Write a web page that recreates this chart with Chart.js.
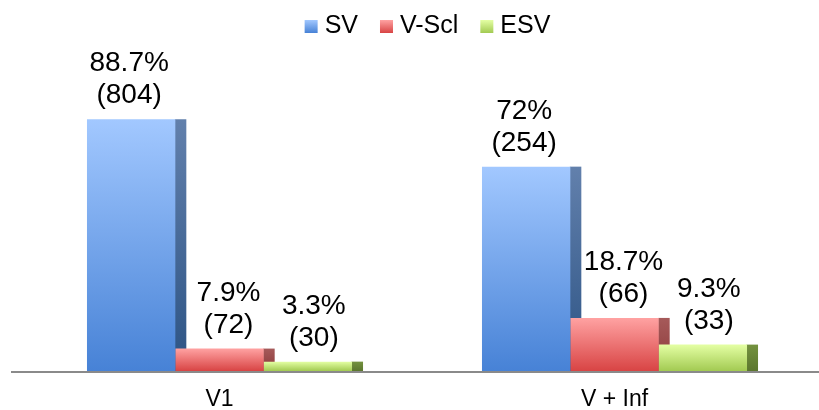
<!DOCTYPE html>
<html><head><meta charset="utf-8">
<script src="https://cdn.jsdelivr.net/npm/chart.js@4.4.1/dist/chart.umd.min.js"></script>
<style>html,body{margin:0;padding:0;background:#fff}#wrap{width:819px;height:410px;position:relative}</style>
</head><body><div id="wrap"><canvas id="c"></canvas></div>
<script>
const categories = ['V1', 'V + Inf'];
const seriesNames = ['SV', 'V-Scl', 'ESV'];
const svPct = [88.7, 72];
const svCount = [804, 254];
const vsclPct = [7.9, 18.7];
const vsclCount = [72, 66];
const esvPct = [3.3, 9.3];
const esvCount = [30, 33];

const FONT = '"Liberation Sans", Arial, Helvetica, sans-serif';
const frontColors = [['#A2C8FF', '#4782D6'], ['#FFA2A2', '#D84444'], ['#E4FFA4', '#A2CA52']];
const sideColors = [['#6280AC', '#2C5384'], ['#A65A5A', '#8A3838'], ['#74923F', '#5B762E']];
const labelOffsets = [-2, 9, 6];
const SIDE = 11;

function grad(ctx, top, bottom, c) {
  const g = ctx.createLinearGradient(0, top, 0, bottom);
  g.addColorStop(0, c[0]);
  g.addColorStop(1, c[1]);
  return g;
}

function frontBg(i) {
  return function(context) {
    const chart = context.chart;
    if (!chart.chartArea || context.type !== 'data') return frontColors[i][1];
    const y = chart.scales.y;
    const top = y.getPixelForValue(context.raw);
    const bottom = y.getPixelForValue(0);
    return grad(chart.ctx, top, bottom, frontColors[i]);
  };
}

const counts = [svCount, vsclCount, esvCount];

const legendPlugin = {
  id: 'customLegend',
  afterDraw(chart) {
    const ctx = chart.ctx;
    ctx.save();
    ctx.font = '25px ' + FONT;
    ctx.textBaseline = 'alphabetic';
    ctx.textAlign = 'left';
    const box = 13, gapText = 7, gapItem = 22;
    const widths = seriesNames.map(n => ctx.measureText(n).width);
    const total = widths.reduce((a, w) => a + box + gapText + w, 0) + gapItem * (seriesNames.length - 1);
    let x = (chart.width - total) / 2 + 18;
    const boxTop = 20, textBase = 33;
    seriesNames.forEach((name, i) => {
      ctx.fillStyle = grad(ctx, boxTop, boxTop + box, frontColors[i]);
      ctx.fillRect(x, boxTop, box, box);
      ctx.fillStyle = '#000';
      ctx.fillText(name, x + box + gapText, textBase);
      x += box + gapText + widths[i] + gapItem;
    });
    ctx.restore();
  }
};

const sidePlugin = {
  id: 'sides',
  beforeDatasetsDraw(chart) {
    const ctx = chart.ctx;
    chart.data.datasets.forEach((ds, i) => {
      const meta = chart.getDatasetMeta(i);
      meta.data.forEach(bar => {
        const right = bar.x + bar.width / 2;
        ctx.fillStyle = grad(ctx, bar.y, bar.base, sideColors[i]);
        ctx.fillRect(right - 0.5, bar.y, SIDE + 0.5, bar.base - bar.y);
      });
    });
  },
  afterDatasetsDraw(chart) {
    const ctx = chart.ctx;
    const base = chart.scales.y.getPixelForValue(0);
    ctx.save();
    ctx.fillStyle = '#8a8a8a';
    ctx.fillRect(11, base, chart.width - 11, 2);
    ctx.fillStyle = '#000';
    ctx.font = '28px ' + FONT;
    ctx.textAlign = 'center';
    ctx.textBaseline = 'alphabetic';
    chart.data.datasets.forEach((ds, i) => {
      const meta = chart.getDatasetMeta(i);
      meta.data.forEach((bar, j) => {
        const x = bar.x + labelOffsets[i];
        const y2 = bar.y - 16;
        ctx.fillText('(' + counts[i][j] + ')', x, y2);
        ctx.fillText(ds.data[j] + '%', x, y2 - 32);
      });
    });
    ctx.restore();
  }
};

new Chart(document.getElementById('c'), {
  type: 'bar',
  data: {
    labels: categories,
    datasets: [
      { label: seriesNames[0], data: svPct, backgroundColor: frontBg(0) },
      { label: seriesNames[1], data: vsclPct, backgroundColor: frontBg(1) },
      { label: seriesNames[2], data: esvPct, backgroundColor: frontBg(2) }
    ]
  },
  options: {
    responsive: true,
    maintainAspectRatio: false,
    animation: false,
    devicePixelRatio: 1,
    layout: { padding: { left: 22, right: 7, top: 50, bottom: -19 } },
    datasets: { bar: { barPercentage: 1, categoryPercentage: 0.671, borderWidth: 0 } },
    plugins: {
      tooltip: { enabled: false },
      legend: { display: false }
    },
    scales: {
      x: {
        grid: { display: false, drawTicks: false },
        border: { display: false },
        ticks: { color: '#000', font: { size: 23, family: FONT, lineHeight: 1 }, padding: 17.5 }
      },
      y: { display: false, min: 0, max: 113.1 }
    }
  },
  plugins: [sidePlugin, legendPlugin]
});
</script>
</body></html>
